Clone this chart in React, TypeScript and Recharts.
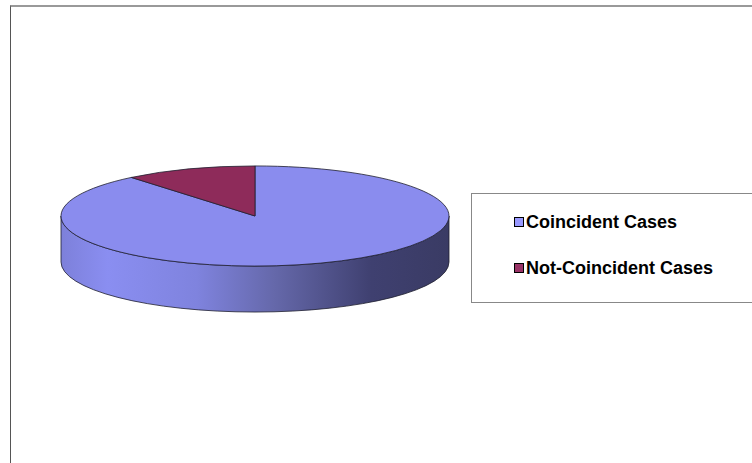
import { PieChart, Pie, Cell, Legend } from 'recharts';

// case split, in percent
const categories = ['Coincident Cases', 'Not-Coincident Cases'];
const shares = [89, 11];
const topColors = ['#8a8cee', '#8e2b5a'];
const legendColors = ['#9999ff', '#993366'];

const data = categories.map((name, i) => ({ name, value: shares[i] }));

const TILT = 0.258; // vertical squash of the disc
const DEPTH = 46; // thickness of the disc in px

const pt = (cx: number, cy: number, rx: number, ry: number, deg: number, dy = 0) => {
  const r = (deg * Math.PI) / 180;
  return `${cx + rx * Math.cos(r)},${cy - ry * Math.sin(r) + dy}`;
};

// draws one slice as a flattened disc sector plus its visible side wall
const Slice3D = (props: any) => {
  const { cx, cy, outerRadius, startAngle, endAngle, fill, index } = props;
  const rx = outerRadius;
  const ry = outerRadius * TILT;
  const lo = Math.min(startAngle, endAngle);
  const hi = Math.max(startAngle, endAngle);

  const walls: [number, number][] = [];
  for (let k = -2; k <= 2; k++) {
    const a = Math.max(lo, -180 + 360 * k);
    const b = Math.min(hi, 360 * k);
    if (b > a) walls.push([b, a]);
  }

  const sweep = endAngle < startAngle ? 1 : 0;
  const large = hi - lo > 180 ? 1 : 0;
  const top = `M${cx},${cy} L${pt(cx, cy, rx, ry, startAngle)} A${rx},${ry} 0 ${large} ${sweep} ${pt(cx, cy, rx, ry, endAngle)} Z`;
  const gid = `wall-grad-${index}`;

  return (
    <g>
      <defs>
        <linearGradient id={gid} x1="0" y1="0" x2="1" y2="0">
          <stop offset="0" stopColor="#7d80da" />
          <stop offset="0.12" stopColor="#8a8ef1" />
          <stop offset="0.35" stopColor="#7f83de" />
          <stop offset="0.55" stopColor="#6568aa" />
          <stop offset="0.8" stopColor="#3f4070" />
          <stop offset="1" stopColor="#3a3b64" />
        </linearGradient>
      </defs>
      {walls.map(([b, a], i) => (
        <path
          key={i}
          d={`M${pt(cx, cy, rx, ry, b)} A${rx},${ry} 0 0 1 ${pt(cx, cy, rx, ry, a)} L${pt(cx, cy, rx, ry, a, DEPTH)} A${rx},${ry} 0 0 0 ${pt(cx, cy, rx, ry, b, DEPTH)} Z`}
          fill={index === 0 ? `url(#${gid})` : fill}
          stroke="#1e1e2e"
          strokeWidth={0.8}
        />
      ))}
      <path d={top} fill={fill} stroke="#1e1e2e" strokeWidth={0.8} />
    </g>
  );
};

const renderLegend = () => (
  <div
    style={{
      width: 320,
      height: 108,
      border: '1px solid #888',
      borderRight: 'none',
      background: '#fff',
      position: 'relative',
      fontFamily: '"Liberation Sans", Arial, sans-serif',
      fontWeight: 'bold',
      fontSize: 18,
      color: '#000',
    }}
  >
    {categories.map((c, i) => (
      <div
        key={c}
        style={{ position: 'absolute', left: 42, top: 17 + i * 46, display: 'flex', alignItems: 'center', height: 22 }}
      >
        <span
          style={{
            display: 'inline-block',
            width: 8,
            height: 8,
            border: '1.5px solid #000',
            background: legendColors[i],
            marginRight: 2,
          }}
        />
        <span>{c}</span>
      </div>
    ))}
  </div>
);

export default function App() {
  return (
    <div style={{ position: 'absolute', left: 0, top: 0, width: 752, height: 463, overflow: 'hidden', background: '#fff' }}>
      <div
        style={{
          position: 'absolute',
          left: 10,
          top: 5,
          width: 800,
          height: 500,
          borderLeft: '1.5px solid #555',
          borderTop: '2px solid #999',
        }}
      />
      <div style={{ position: 'absolute', left: 0, top: 0 }}>
        <PieChart width={752} height={463} margin={{ top: 0, right: 0, bottom: 0, left: 0 }}>
          <Pie
            data={data}
            dataKey="value"
            nameKey="name"
            cx={255}
            cy={216}
            outerRadius={194}
            startAngle={90}
            endAngle={-270}
            stroke="none"
            isAnimationActive={false}
            shape={Slice3D}
            inactiveShape={Slice3D}
            activeShape={Slice3D}
          >
            {data.map((d, i) => (
              <Cell key={d.name} fill={topColors[i]} />
            ))}
          </Pie>
          <Legend content={renderLegend} wrapperStyle={{ left: 471, top: 193, width: 320, height: 110 }} />
        </PieChart>
      </div>
    </div>
  );
}
